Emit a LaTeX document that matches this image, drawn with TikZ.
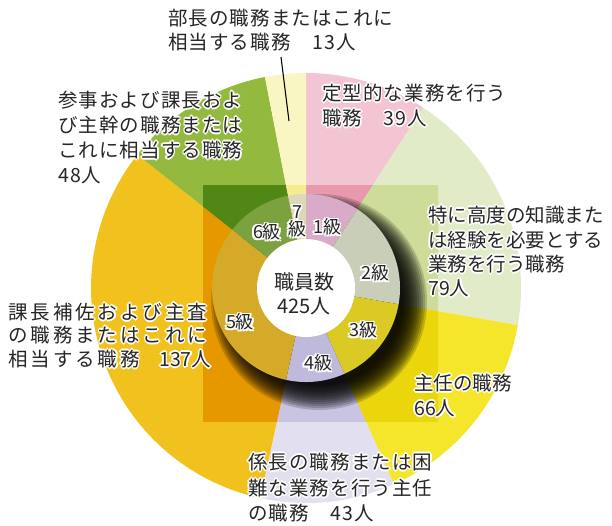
\documentclass[tikz,border=0pt]{standalone}
\usepackage{fontspec}
\newfontfamily\jp{Noto Sans CJK JP}
\newfontfamily\jpa{Noto Sans CJK JP}[LetterSpace=5.5]
\newfontfamily\jpb{Noto Sans CJK JP}[LetterSpace=15]
% outer colours
\definecolor{oPink}{HTML}{F3C5D3}
\definecolor{oLgreen}{HTML}{E2EBC7}
\definecolor{oYellow}{HTML}{F5E62C}
\definecolor{oLav}{HTML}{E2DFEF}
\definecolor{oOrange}{HTML}{F1C21E}
\definecolor{oGreen}{HTML}{93BA3E}
\definecolor{oLyellow}{HTML}{FAF6C4}
% inside square
\definecolor{sPink}{HTML}{E899AE}
\definecolor{sLgreen}{HTML}{CDDC98}
\definecolor{sYellow}{HTML}{EBD60C}
\definecolor{sLav}{HTML}{C9C4E2}
\definecolor{sOrange}{HTML}{E59800}
\definecolor{sGreen}{HTML}{518815}
\definecolor{sLyellow}{HTML}{F4EC8F}
% ring
\definecolor{rPink}{HTML}{D8ABC8}
\definecolor{rLgreen}{HTML}{C9CEB9}
\definecolor{rYellow}{HTML}{DBC924}
\definecolor{rLav}{HTML}{BFB9DC}
\definecolor{rOrange}{HTML}{D5AA29}
\definecolor{rGreen}{HTML}{7CA240}
\definecolor{rLyellow}{HTML}{DDD8B8}
\newcommand\sect[4]{\fill[#1] (306,288) -- plot[domain=#2:#3, samples=60] ({306+#4*cos(\x)},{288+#4*sin(\x)}) -- cycle;}
\newcommand\allsect[2]{%
  \sect{#1Pink}{-90}{-56.965}{#2}
  \sect{#1Lgreen}{-56.965}{9.953}{#2}
  \sect{#1Yellow}{9.953}{65.859}{#2}
  \sect{#1Lav}{65.859}{102.282}{#2}
  \sect{#1Orange}{102.282}{218.329}{#2}
  \sect{#1Green}{218.329}{258.988}{#2}
  \sect{#1Lyellow}{258.988}{270}{#2}}
\newcommand\lab[5]{%
  \foreach \hx/\hy in {1.6/0,-1.6/0,0/1.6,0/-1.6,1.15/1.15,1.15/-1.15,-1.15/1.15,-1.15/-1.15}
    \node[txt,font={#4\fontsize{19.5}{24}\selectfont},text=white,xshift=\hx pt,yshift=\hy pt] at (#2,#3) {#5};
  \node[txt,font={#4\fontsize{19.5}{24}\selectfont}] (#1) at (#2,#3) {#5};}
\newcommand\rlab[4]{%
  \foreach \hx/\hy in {1.5/0,-1.5/0,0/1.5,0/-1.5,1.1/1.1,1.1/-1.1,-1.1/1.1,-1.1/-1.1}
    \node[rtxt,text=white,xshift=\hx pt,yshift=\hy pt] at (#2,#3) {#4};
  \node[rtxt] (#1) at (#2,#3) {#4};}
\tikzset{
  txt/.style={anchor=west, inner sep=0pt, text height=17.2pt, text depth=2.3pt, text=black!85},
  rtxt/.style={anchor=center, inner sep=0pt, text height=15.9pt, text depth=2.1pt, text=black!85, font=\jp\fontsize{18}{20}\selectfont},
  ctxt/.style={anchor=center, inner sep=0pt, text height=17.2pt, text depth=2.3pt, text=black!85, font=\jp\fontsize{20}{24}\selectfont},
  leader/.style={draw=black, line width=1.1pt},
  shadowdisc/.style={fill=black, opacity=0.17}
}
\begin{document}
\begin{tikzpicture}[x=1pt,y=-1pt]
\useasboundingbox (0,0) rectangle (612,525);
\fill[white] (0,0) rectangle (612,525);
\coordinate (c) at (306,288);
\coordinate (sc) at (319,302);
% outer pie
\allsect{o}{215}
% darker square
\begin{scope}
  \clip (203,185) rectangle (438,421);
  \allsect{s}{215}
\end{scope}
% soft shadow (stacked translucent discs)
\foreach \rr in {84,86,...,108}
  \fill[shadowdisc] (sc) circle[radius=\rr];
% ring
\allsect{r}{94}
\fill[white] (c) circle[radius=49];
% centre text
\node[ctxt] (ct1) at (304,282) {職員数};
\node[ctxt] (ct2) at (304,306) {425人};
% ring labels
\rlab{g1}{327}{227}{1級}
\rlab{g2}{375}{273}{2級}
\rlab{g3}{363}{330}{3級}
\rlab{g4}{318}{363}{4級}
\rlab{g5}{240}{322}{5級}
\rlab{g6}{267}{232}{6級}
\rlab{g7a}{297}{212}{7}
\rlab{g7b}{297}{229}{級}
% leader
\coordinate (l1) at (281,57);
\coordinate (l2) at (289,121);
\draw[leader] (l1) -- (l2);
% outer labels
\lab{la1}{168}{18}{\jpa}{部長の職務またはこれに}
\lab{la2}{168}{42}{\jpa}{相当する職務　13人}
\lab{lb1}{322}{93}{\jpa}{定型的な業務を行う}
\lab{lb2}{322}{118}{\jpa}{職務　39人}
\lab{lc1}{58}{100}{\jpa}{参事および課長およ}
\lab{lc2}{58}{125}{\jpa}{び主幹の職務または}
\lab{lc3}{58}{150}{\jpa}{これに相当する職務}
\lab{lc4}{58}{175}{\jpa}{48人}
\lab{ld1}{428}{215}{\jp}{特に高度の知識また}
\lab{ld2}{428}{240}{\jp}{は経験を必要とする}
\lab{ld3}{428}{264}{\jp}{業務を行う職務}
\lab{ld4}{428}{288}{\jp}{79人}
\lab{le1}{414}{383}{\jp}{主任の職務}
\lab{le2}{414}{408}{\jp}{66人}
\lab{lf1}{248}{462}{\jpa}{係長の職務または困}
\lab{lf2}{248}{488}{\jpa}{難な業務を行う主任}
\lab{lf3}{248}{513}{\jpa}{の職務　43人}
\lab{lg1}{8}{312}{\jpb}{課長補佐および主査}
\lab{lg2}{8}{335}{\jpb}{の職務またはこれに}
\lab{lg3}{8}{359}{\jpb}{相当する職務\jp　137人}
\end{tikzpicture}
\end{document}
